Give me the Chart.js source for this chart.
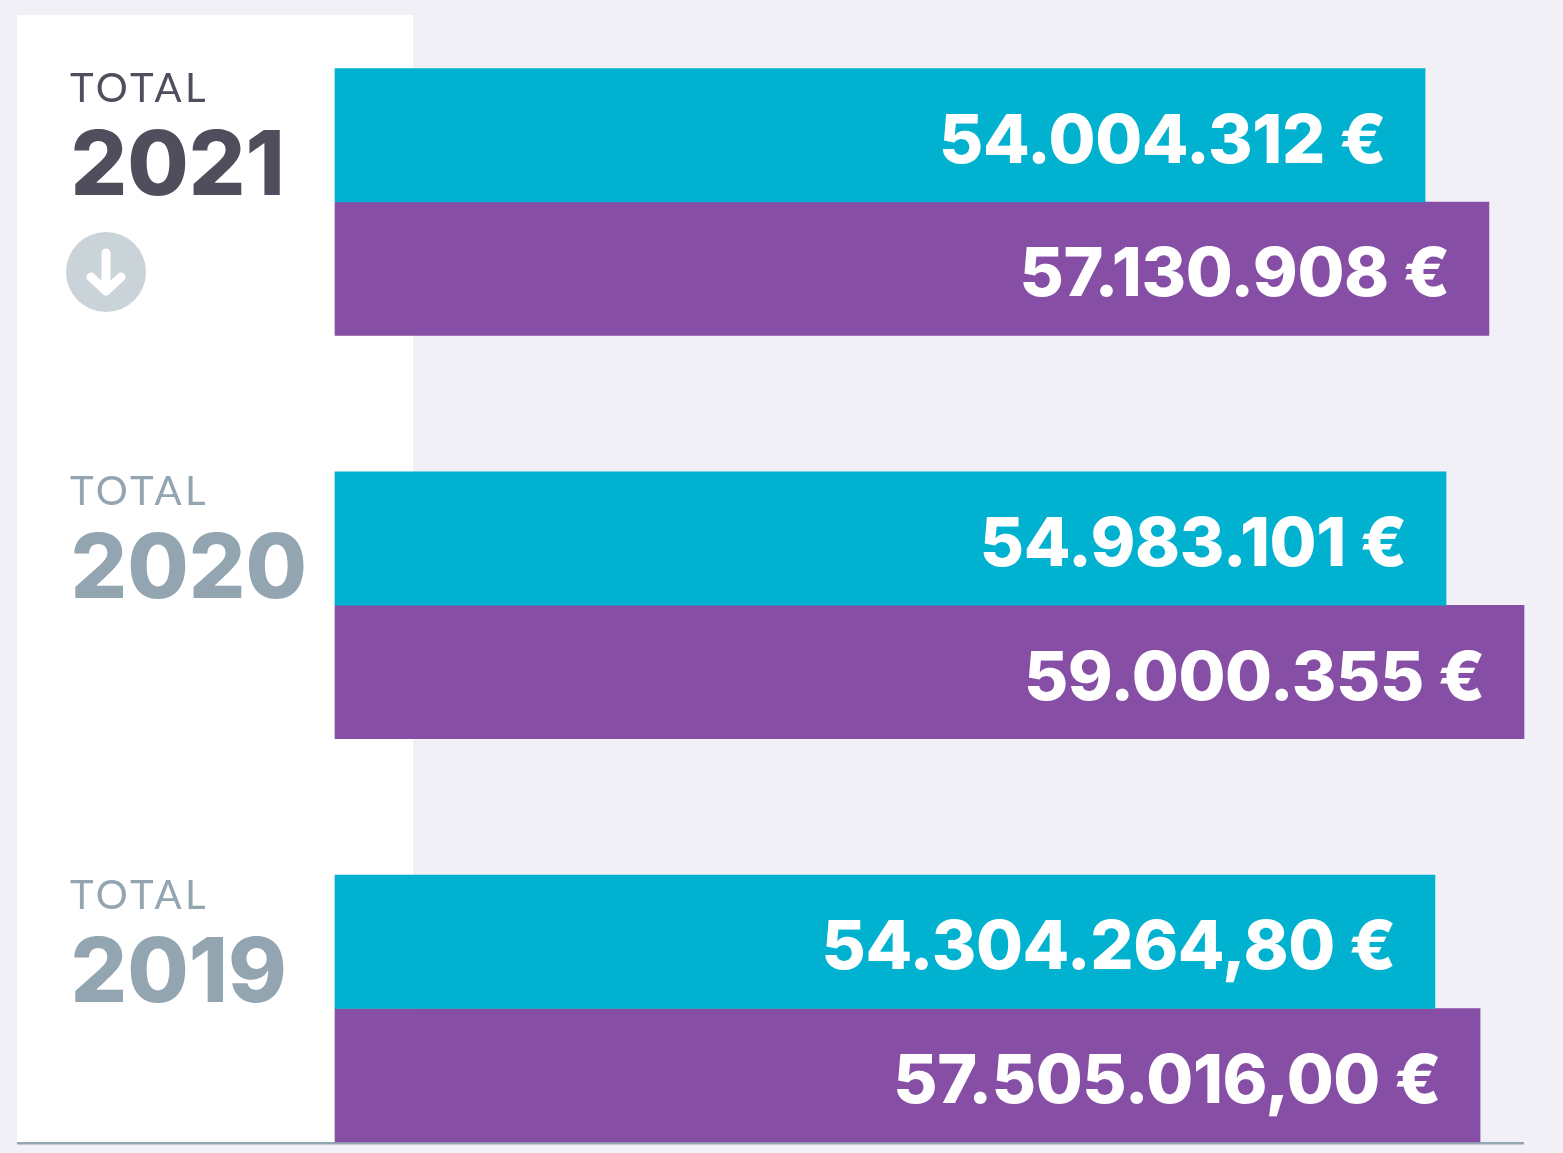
<!DOCTYPE html>
<html><head><meta charset="utf-8">
<script src="https://cdn.jsdelivr.net/npm/chart.js@4"></script>
<style>html,body{margin:0;padding:0;background:#f0f0f6;overflow:hidden}canvas{display:block}</style>
</head><body><canvas id="c" width="1563" height="1153"></canvas>
<script>
const years = ['2021', '2020', '2019'];
const caption = 'TOTAL';
// Bar lengths
const tealValues = [54090000, 55130000, 54580000];
const purpleValues = [57260000, 59000355, 56820000];
// Printed values
const tealLabels = ['54.004.312 €', '54.983.101 €', '54.304.264,80 €'];
const purpleLabels = ['57.130.908 €', '59.000.355 €', '57.505.016,00 €'];
const yearColors = ['#504e5c', '#93a5b1', '#93a5b1'];
const arrowRows = ['2021'];

const FONT = 'Inter, Lato, sans-serif';
const backdrop = {
  id: 'backdrop',
  beforeDraw(chart) {
    const g = chart.ctx;
    g.save();
    g.fillStyle = '#f0f0f6'; g.fillRect(0, 0, chart.width, chart.height);
    g.fillStyle = '#ffffff'; g.fillRect(17, 15, 396, 1127);
    g.fillStyle = '#94a6b1'; g.fillRect(17, 1142, 1507, 2.5);
    g.restore();
  }
};
const annotate = {
  id: 'annotate',
  afterDatasetsDraw(chart) {
    const g = chart.ctx, y = chart.scales.y;
    g.save();
    g.textBaseline = 'alphabetic';
    years.forEach((yr, i) => {
      const cy = y.getPixelForValue(i);
      g.textAlign = 'left';
      g.fillStyle = yearColors[i];
      g.font = '400 40px Lato, ' + FONT;
      g.letterSpacing = '3.5px';
      g.fillText(caption, 70, cy - 100);
      g.font = '800 89px ' + FONT;
      g.letterSpacing = '0px';
      g.fillText(yr, 70.5, cy - 7);
      if (arrowRows.includes(yr)) {
        const ax = 106, ay = cy + 70;
        g.fillStyle = '#cad4d8';
        g.beginPath(); g.arc(ax, ay, 40, 0, Math.PI * 2); g.fill();
        g.strokeStyle = '#fff'; g.lineWidth = 9; g.lineCap = 'round'; g.lineJoin = 'round';
        g.beginPath();
        g.moveTo(ax, ay - 19); g.lineTo(ax, ay + 18);
        g.moveTo(ax - 15, ay + 5); g.lineTo(ax, ay + 19); g.lineTo(ax + 15, ay + 5);
        g.stroke();
      }
    });
    g.textAlign = 'right';
    g.fillStyle = '#ffffff';
    g.font = '800 68px ' + FONT;
    g.letterSpacing = '-0.4px';
    [tealLabels, purpleLabels].forEach((labels, d) => {
      chart.getDatasetMeta(d).data.forEach((bar, i) => {
        g.fillText(labels[i], bar.x - 39, bar.y + 27.5);
      });
    });
    g.restore();
  }
};
new Chart(document.getElementById('c'), {
  type: 'bar',
  data: {
    labels: years,
    datasets: [
      { data: tealValues, backgroundColor: '#00b2cf', barThickness: 133.5, clip: false },
      { data: purpleValues, backgroundColor: '#864fa5', barThickness: 133.5, clip: false }
    ]
  },
  options: {
    indexAxis: 'y',
    responsive: false,
    animation: false,
    devicePixelRatio: 1,
    layout: { padding: { left: 335, right: 39, top: 202, bottom: 144.5 } },
    plugins: { legend: { display: false }, tooltip: { enabled: false } },
    scales: {
      x: { display: false, min: 0, max: 59000355 },
      y: { display: false, offset: false }
    }
  },
  plugins: [backdrop, annotate]
});
</script></body></html>
